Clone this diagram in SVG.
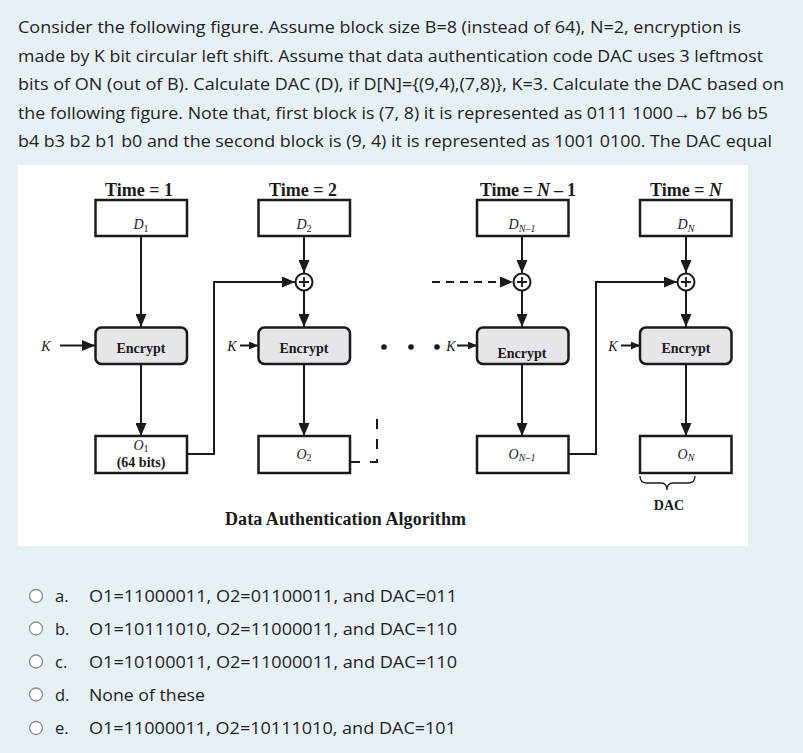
<svg xmlns="http://www.w3.org/2000/svg" width="803" height="753" viewBox="0 0 803 753">
<defs>
<style>
.q{font-family:"Open Sans","Noto Sans",sans-serif;font-size:16.5px;fill:#1d2125}
.fig{font-family:"Liberation Serif","Times New Roman",serif;fill:#1a1a1a}
.tl{font-size:18px;font-weight:bold}
.enc{font-size:14px;font-weight:bold}
.lab{font-size:14px;font-style:italic}
.sub{font-size:10px}
.box{fill:#fff;stroke:#1a1a1a;stroke-width:2.5}
.ebox{fill:#e6e6ea;stroke:#1a1a1a;stroke-width:2.5}
.ln{fill:none;stroke:#1a1a1a;stroke-width:2}
.radio{fill:#fff;stroke:#8a8d91;stroke-width:1.3}
</style>
<marker id="ah" viewBox="0 0 13 11" refX="13" refY="5.5" markerWidth="13" markerHeight="11" markerUnits="userSpaceOnUse" orient="auto"><path d="M0,0 L13,5.5 L0,11 z" fill="#1a1a1a"/></marker>
<marker id="ahs" viewBox="0 0 9 8" refX="9" refY="4" markerWidth="9" markerHeight="8" markerUnits="userSpaceOnUse" orient="auto"><path d="M0,0 L9,4 L0,8 z" fill="#1a1a1a"/></marker>
</defs>
<rect width="803" height="753" fill="#e7f1f5"/>
<g id="question">
<text class="q" x="18" y="33" textLength="723" lengthAdjust="spacingAndGlyphs">Consider the following figure. Assume block size B=8 (instead of 64), N=2, encryption is</text>
<text class="q" x="18" y="61.5" textLength="745" lengthAdjust="spacingAndGlyphs">made by K bit circular left shift. Assume that data authentication code DAC uses 3 leftmost</text>
<text class="q" x="18" y="90" textLength="766" lengthAdjust="spacingAndGlyphs">bits of ON (out of B). Calculate DAC (D), if D[N]={(9,4),(7,8)}, K=3. Calculate the DAC based on</text>
<text class="q" x="18" y="118.5" textLength="750" lengthAdjust="spacingAndGlyphs">the following figure. Note that, first block is (7, 8) it is represented as 0111 1000→ b7 b6 b5</text>
<text class="q" x="18" y="147" textLength="754" lengthAdjust="spacingAndGlyphs">b4 b3 b2 b1 b0 and the second block is (9, 4) it is represented as 1001 0100. The DAC equal</text>
</g>
<rect x="18" y="165" width="730" height="381" fill="#fff"/>
<g id="connectors">
<line class="ln" x1="141" y1="236" x2="141" y2="327" marker-end="url(#ah)"/>
<line class="ln" x1="304" y1="236" x2="304" y2="273" marker-end="url(#ah)"/>
<line class="ln" x1="304" y1="291" x2="304" y2="327" marker-end="url(#ah)"/>
<line class="ln" x1="522" y1="236" x2="522" y2="273" marker-end="url(#ah)"/>
<line class="ln" x1="522" y1="291" x2="522" y2="327" marker-end="url(#ah)"/>
<line class="ln" x1="686" y1="236" x2="686" y2="273" marker-end="url(#ah)"/>
<line class="ln" x1="686" y1="291" x2="686" y2="327" marker-end="url(#ah)"/>
<line class="ln" x1="141" y1="364" x2="141" y2="436" marker-end="url(#ah)"/>
<line class="ln" x1="304" y1="364" x2="304" y2="436" marker-end="url(#ah)"/>
<line class="ln" x1="522" y1="364" x2="522" y2="436" marker-end="url(#ah)"/>
<line class="ln" x1="686" y1="364" x2="686" y2="436" marker-end="url(#ah)"/>
<polyline class="ln" points="187,454 214,454 214,282 295,282" marker-end="url(#ah)"/>
<polyline class="ln" points="568,454 596,454 596,282 677,282" marker-end="url(#ah)"/>
<line class="ln" x1="432" y1="282" x2="513" y2="282" stroke-dasharray="8,6" marker-end="url(#ah)"/>
<polyline class="ln" points="350,462 377,462 377,417" stroke-dasharray="10,10"/>
<line class="ln" x1="60" y1="345.5" x2="95" y2="345.5" marker-end="url(#ah)"/>
<line class="ln" x1="240" y1="345.5" x2="258" y2="345.5" marker-end="url(#ahs)"/>
<line class="ln" x1="457" y1="345.5" x2="477" y2="345.5" marker-end="url(#ahs)"/>
<line class="ln" x1="621" y1="345.5" x2="640" y2="345.5" marker-end="url(#ahs)"/>
<circle cx="384" cy="347" r="2.8" fill="#1a1a1a"/>
<circle cx="411" cy="347" r="2.8" fill="#1a1a1a"/>
<circle cx="437" cy="347" r="2.8" fill="#1a1a1a"/>
</g>
<g id="col1" class="fig">
<text class="tl" x="139" y="196" text-anchor="middle" textLength="68">Time = 1</text>
<rect class="box" x="95.5" y="200" width="91.5" height="36"/>
<text class="lab" x="141" y="229" text-anchor="middle">D<tspan class="sub" font-style="normal" dy="3">1</tspan></text>
<text class="lab" x="46" y="351" text-anchor="middle">K</text>
<rect class="ebox" x="95.5" y="327.5" width="91.5" height="36.5" rx="6"/>
<text class="enc" x="141" y="353" text-anchor="middle">Encrypt</text>
<rect class="box" x="95.5" y="436" width="91.5" height="37"/>
<text class="lab" x="141" y="450" text-anchor="middle">O<tspan class="sub" font-style="normal" dy="2">1</tspan></text>
<text class="enc" x="141" y="467" text-anchor="middle" font-size="12.5">(64 bits)</text>
</g>
<g id="col2" class="fig">
<text class="tl" x="303" y="196" text-anchor="middle" textLength="68">Time = 2</text>
<rect class="box" x="258.5" y="200" width="91.5" height="36"/>
<text class="lab" x="304" y="229" text-anchor="middle">D<tspan class="sub" font-style="normal" dy="3">2</tspan></text>
<circle cx="304" cy="282" r="8.5" fill="#fff" stroke="#1a1a1a" stroke-width="2"/>
<path d="M299,282 H309 M304,277 V287" stroke="#1a1a1a" stroke-width="1.8"/>
<text class="lab" x="232" y="351" text-anchor="middle" font-size="12">K</text>
<rect class="ebox" x="258.5" y="327.5" width="91.5" height="36.5" rx="6"/>
<text class="enc" x="304" y="353" text-anchor="middle">Encrypt</text>
<rect class="box" x="258.5" y="436" width="91.5" height="37"/>
<text class="lab" x="304" y="459" text-anchor="middle">O<tspan class="sub" font-style="normal" dy="2">2</tspan></text>
</g>
<g id="col3" class="fig">
<text class="tl" x="480" y="196" textLength="96">Time = <tspan font-style="italic">N</tspan> – 1</text>
<rect class="box" x="477" y="200" width="91.5" height="36"/>
<text class="lab" x="522" y="229" text-anchor="middle">D<tspan class="sub" dy="3">N–1</tspan></text>
<circle cx="522" cy="282" r="8.5" fill="#fff" stroke="#1a1a1a" stroke-width="2"/>
<path d="M517,282 H527 M522,277 V287" stroke="#1a1a1a" stroke-width="1.8"/>
<text class="lab" x="451" y="351" text-anchor="middle" font-size="12">K</text>
<rect class="ebox" x="477" y="327.5" width="91.5" height="36.5" rx="6"/>
<text class="enc" x="522" y="358" text-anchor="middle">Encrypt</text>
<rect class="box" x="477" y="436" width="91.5" height="37"/>
<text class="lab" x="522" y="459" text-anchor="middle">O<tspan class="sub" dy="2">N–1</tspan></text>
</g>
<g id="col4" class="fig">
<text class="tl" x="686" y="196" text-anchor="middle" textLength="72">Time = <tspan font-style="italic">N</tspan></text>
<rect class="box" x="640" y="200" width="91.5" height="36"/>
<text class="lab" x="686" y="229" text-anchor="middle">D<tspan class="sub" dy="3">N</tspan></text>
<circle cx="686" cy="282" r="8.5" fill="#fff" stroke="#1a1a1a" stroke-width="2"/>
<path d="M681,282 H691 M686,277 V287" stroke="#1a1a1a" stroke-width="1.8"/>
<text class="lab" x="613" y="351" text-anchor="middle" font-size="12">K</text>
<rect class="ebox" x="640" y="327.5" width="91.5" height="36.5" rx="6"/>
<text class="enc" x="686" y="353" text-anchor="middle">Encrypt</text>
<rect class="box" x="640" y="436" width="91.5" height="37"/>
<text class="lab" x="686" y="459" text-anchor="middle">O<tspan class="sub" dy="2">N</tspan></text>
<path d="M640,476 Q640,483 647,483 H661 Q667,483 667,490 Q667,483 673,483 H688 Q695,483 695,476" fill="none" stroke="#1a1a1a" stroke-width="1.3"/>
<text class="enc" x="669" y="510" text-anchor="middle" font-size="13.5">DAC</text>
</g>
<g id="caption" class="fig">
<text class="tl" x="225" y="525" textLength="241">Data Authentication Algorithm</text>
</g>
<g id="options">
<circle class="radio" cx="36" cy="596" r="6.5"/>
<text class="q" x="55" y="602">a.</text>
<text class="q" x="89" y="602" textLength="368" lengthAdjust="spacingAndGlyphs">O1=11000011, O2=01100011, and DAC=011</text>
<circle class="radio" cx="36" cy="628.5" r="6.5"/>
<text class="q" x="55" y="634.5">b.</text>
<text class="q" x="89" y="634.5" textLength="368" lengthAdjust="spacingAndGlyphs">O1=10111010, O2=11000011, and DAC=110</text>
<circle class="radio" cx="36" cy="661.5" r="6.5"/>
<text class="q" x="55" y="667.5">c.</text>
<text class="q" x="89" y="667.5" textLength="368" lengthAdjust="spacingAndGlyphs">O1=10100011, O2=11000011, and DAC=110</text>
<circle class="radio" cx="36" cy="694.5" r="6.5"/>
<text class="q" x="55" y="700.5">d.</text>
<text class="q" x="89" y="700.5" textLength="116" lengthAdjust="spacingAndGlyphs">None of these</text>
<circle class="radio" cx="36" cy="728" r="6.5"/>
<text class="q" x="55" y="734">e.</text>
<text class="q" x="89" y="734" textLength="367" lengthAdjust="spacingAndGlyphs">O1=11000011, O2=10111010, and DAC=101</text>
</g>
</svg>
